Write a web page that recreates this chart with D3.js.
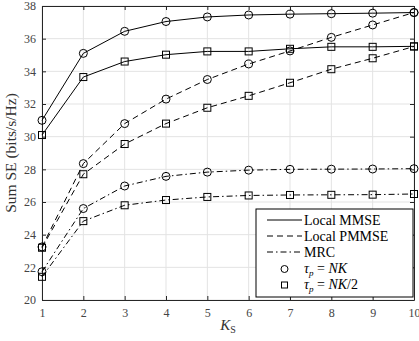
<!DOCTYPE html>
<html>
<head>
<meta charset="utf-8">
<script src="https://cdn.jsdelivr.net/npm/d3@7"></script>
<style>
  body { margin: 0; background: #fff; }
</style>
</head>
<body>
<script>
// data
var ks = [1, 2, 3, 4, 5, 6, 7, 8, 9, 10];
var mmseFull = [31.0, 35.1, 36.45, 37.05, 37.33, 37.45, 37.5, 37.53, 37.56, 37.6];
var mmseHalf = [30.1, 33.65, 34.6, 35.02, 35.22, 35.22, 35.38, 35.5, 35.5, 35.53];
var pmmseFull = [23.25, 28.35, 30.8, 32.3, 33.5, 34.45, 35.25, 36.08, 36.84, 37.6];
var pmmseHalf = [23.2, 27.7, 29.55, 30.8, 31.77, 32.5, 33.3, 34.13, 34.8, 35.52];
var mrcFull = [21.73, 25.6, 26.98, 27.57, 27.83, 27.95, 28.0, 28.01, 28.02, 28.04];
var mrcHalf = [21.42, 24.83, 25.8, 26.12, 26.31, 26.4, 26.43, 26.44, 26.45, 26.49];
var yTicks = [20, 22, 24, 26, 28, 30, 32, 34, 36, 38];

var series = [
  { vals: mmseFull, dash: null, mark: "circle" },
  { vals: mmseHalf, dash: null, mark: "square" },
  { vals: pmmseFull, dash: "6,4", mark: "circle" },
  { vals: pmmseHalf, dash: "6,4", mark: "square" },
  { vals: mrcFull, dash: "6,3,1.5,3", mark: "circle" },
  { vals: mrcHalf, dash: "6,3,1.5,3", mark: "square" }
];

var serif = "'Liberation Serif', 'Times New Roman', Times, 'DejaVu Serif', serif";
var width = 419, height = 341;
var plotLeft = 42, plotRight = 414, plotTop = 6, plotBottom = 300;

var svg = d3.select("body").append("svg")
  .attr("width", width)
  .attr("height", height)
  .attr("font-family", serif);

var x = d3.scaleLinear().domain([1, 10]).range([plotLeft, plotRight]);
var y = d3.scaleLinear().domain([20, 38]).range([plotBottom, plotTop]);

// grid
svg.append("g").selectAll("line")
  .data(ks).enter().append("line")
  .attr("x1", function (d) { return x(d); })
  .attr("x2", function (d) { return x(d); })
  .attr("y1", plotTop).attr("y2", plotBottom)
  .style("stroke", "#e3e3e3").style("stroke-width", 1);
svg.append("g").selectAll("line")
  .data(yTicks).enter().append("line")
  .attr("x1", plotLeft).attr("x2", plotRight)
  .attr("y1", function (d) { return y(d); })
  .attr("y2", function (d) { return y(d); })
  .style("stroke", "#e3e3e3").style("stroke-width", 1);

// axes (ticks inward, MATLAB style)
var axColor = "#262626";
var xAxis = svg.append("g").attr("transform", "translate(0," + plotBottom + ")")
  .call(d3.axisBottom(x).tickValues(ks).tickSizeInner(-4).tickSizeOuter(0).tickPadding(8));
var xAxisTop = svg.append("g").attr("transform", "translate(0," + plotTop + ")")
  .call(d3.axisTop(x).tickValues(ks).tickSizeInner(-4).tickSizeOuter(0).tickFormat(""));
var yAxis = svg.append("g").attr("transform", "translate(" + plotLeft + ",0)")
  .call(d3.axisLeft(y).tickValues(yTicks).tickSizeInner(-4).tickSizeOuter(0).tickPadding(6));
var yAxisRight = svg.append("g").attr("transform", "translate(" + plotRight + ",0)")
  .call(d3.axisRight(y).tickValues(yTicks).tickSizeInner(-4).tickSizeOuter(0).tickFormat(""));

[xAxis, xAxisTop, yAxis, yAxisRight].forEach(function (a) {
  a.attr("font-family", serif).attr("font-size", 12);
  a.selectAll("path").style("stroke", axColor).style("stroke-width", 1);
  a.selectAll("line").style("stroke", axColor);
  a.selectAll("text").style("fill", "#444");
});

// lines and markers
var line = d3.line()
  .x(function (d, i) { return x(ks[i]); })
  .y(function (d) { return y(d); });

series.forEach(function (s) {
  svg.append("path")
    .datum(s.vals)
    .attr("d", line)
    .style("fill", "none")
    .style("stroke", "#000")
    .style("stroke-width", 1)
    .style("stroke-dasharray", s.dash);

  if (s.mark === "circle") {
    svg.append("g").selectAll("circle")
      .data(s.vals).enter().append("circle")
      .attr("cx", function (d, i) { return x(ks[i]); })
      .attr("cy", function (d) { return y(d); })
      .attr("r", 4)
      .style("fill", "none")
      .style("stroke", "#000")
      .style("stroke-width", 1);
  } else {
    svg.append("g").selectAll("rect")
      .data(s.vals).enter().append("rect")
      .attr("x", function (d, i) { return x(ks[i]) - 3.5; })
      .attr("y", function (d) { return y(d) - 3.5; })
      .attr("width", 7)
      .attr("height", 7)
      .style("fill", "none")
      .style("stroke", "#000")
      .style("stroke-width", 1);
  }
});

// axis labels
svg.append("text")
  .attr("transform", "translate(16," + ((plotTop + plotBottom) / 2) + ") rotate(-90)")
  .attr("text-anchor", "middle")
  .attr("font-size", 15.5)
  .style("fill", "#333")
  .text("Sum SE (bits/s/Hz)");

var xl = svg.append("text")
  .attr("x", (plotLeft + plotRight) / 2)
  .attr("y", 330)
  .attr("text-anchor", "middle")
  .attr("font-size", 15)
  .style("fill", "#333");
xl.append("tspan").style("font-style", "italic").text("K");
xl.append("tspan").attr("dy", 3).attr("font-size", 10).text("S");

// legend
var legend = svg.append("g").attr("class", "legend");
legend.append("rect")
  .attr("x", 256).attr("y", 209)
  .attr("width", 157).attr("height", 88)
  .style("fill", "#fff")
  .style("stroke", "#000")
  .style("stroke-width", 1);

var legendItems = [
  { label: "Local MMSE", dash: null },
  { label: "Local PMMSE", dash: "6,4" },
  { label: "MRC", dash: "6,3,1.5,3" }
];
legendItems.forEach(function (d, i) {
  var ly = 220 + i * 16;
  legend.append("line")
    .attr("x1", 267).attr("x2", 302)
    .attr("y1", ly).attr("y2", ly)
    .style("stroke", "#000").style("stroke-width", 1)
    .style("stroke-dasharray", d.dash);
  legend.append("text")
    .attr("x", 304).attr("y", ly + 5)
    .attr("font-size", 14)
    .style("fill", "#000")
    .text(d.label);
});

// marker entries
legend.append("circle")
  .attr("cx", 284.5).attr("cy", 269).attr("r", 3.5)
  .style("fill", "none").style("stroke", "#000");
var t1 = legend.append("text").attr("x", 304).attr("y", 273).attr("font-size", 14);
t1.append("tspan").style("font-style", "italic").text("τ");
t1.append("tspan").attr("dy", 3).attr("font-size", 9).style("font-style", "italic").text("p");
t1.append("tspan").attr("dy", -3).text(" = ");
t1.append("tspan").style("font-style", "italic").text("NK");

legend.append("rect")
  .attr("x", 281.5).attr("y", 282).attr("width", 6).attr("height", 6)
  .style("fill", "none").style("stroke", "#000");
var t2 = legend.append("text").attr("x", 304).attr("y", 289).attr("font-size", 14);
t2.append("tspan").style("font-style", "italic").text("τ");
t2.append("tspan").attr("dy", 3).attr("font-size", 9).style("font-style", "italic").text("p");
t2.append("tspan").attr("dy", -3).text(" = ");
t2.append("tspan").style("font-style", "italic").text("NK");
t2.append("tspan").text("/2");
</script>
</body>
</html>
